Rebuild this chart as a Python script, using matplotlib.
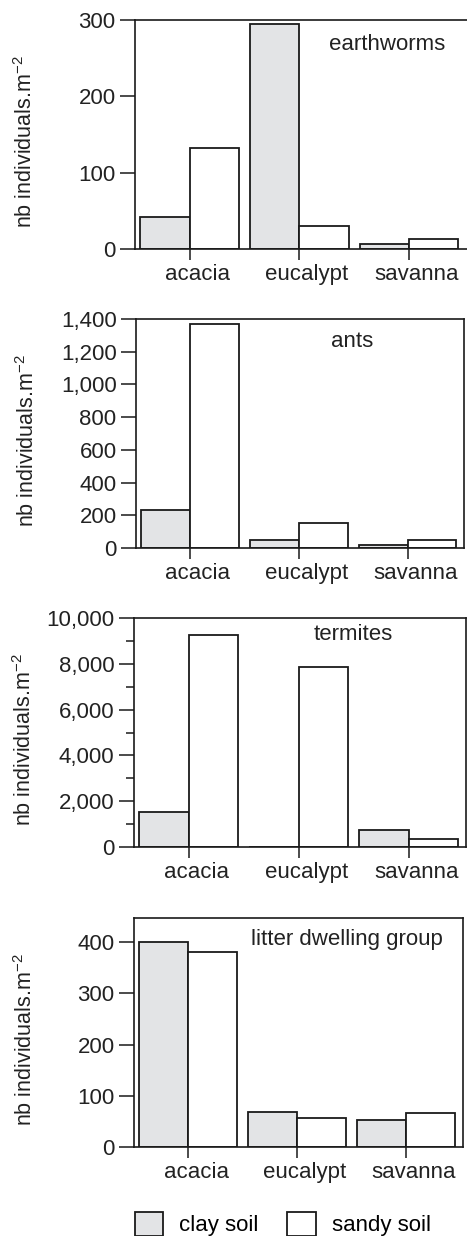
import matplotlib
matplotlib.use("Agg")
import matplotlib.pyplot as plt
from matplotlib.ticker import StrMethodFormatter, MultipleLocator

plt.rcParams['font.family'] = ['Liberation Sans', 'DejaVu Sans']
plt.rcParams['mathtext.default'] = 'regular'

sites = ["acacia", "eucalypt", "savanna"]
soils = ["clay soil", "sandy soil"]

# values (individuals per m2)
earthworms_clay = [42, 295, 7]
earthworms_sandy = [132, 30, 13]
ants_clay = [230, 50, 18]
ants_sandy = [1370, 150, 50]
termites_clay = [1550, 0, 750]
termites_sandy = [9250, 7850, 350]
litter_clay = [400, 68, 53]
litter_sandy = [380, 57, 67]

groups = ["earthworms", "ants", "termites", "litter dwelling group"]
clay = [earthworms_clay, ants_clay, termites_clay, litter_clay]
sandy = [earthworms_sandy, ants_sandy, termites_sandy, litter_sandy]
ymax = [300, 1400, 10000, 447]
ystep = [100, 200, 2000, 100]

clay_color = "#e3e4e6"
edge = "#1a1a1a"
fs = 16

W, H = 467, 1236
fig = plt.figure(figsize=(W / 100, H / 100), dpi=100)

# pixel boxes: left, right, top, bottom
boxes = [(135, 467, 20, 249), (136, 464, 319, 548),
         (134, 466, 618, 847), (134, 463, 918, 1147)]
title_pos = [(0.758, 0.895), (0.66, 0.90), (0.66, 0.926), (0.648, 0.904)]

x = list(range(len(sites)))
w = 0.45
for k in range(4):
    l, r, t, b = boxes[k]
    ax = fig.add_axes([l / W, 1 - b / H, (r - l) / W, (b - t) / H])
    ax.bar([i - w for i in x], clay[k], width=w, align='edge',
           color=clay_color, edgecolor=edge, linewidth=1.3)
    ax.bar(x, sandy[k], width=w, align='edge',
           color='white', edgecolor=edge, linewidth=1.3)
    ax.set_xlim(-0.5, 2.53 if k == 0 else 2.52)
    ax.set_ylim(0, ymax[k])
    ax.yaxis.set_major_locator(MultipleLocator(ystep[k]))
    ax.yaxis.set_major_formatter(StrMethodFormatter('{x:,.0f}'))
    if k == 2:
        ax.yaxis.set_minor_locator(MultipleLocator(1000))
        ax.tick_params(axis='y', which='minor', length=6, width=1.1,
                       color=edge)
    # tick marks at the group centres, labels slightly to the right
    ax.set_xticks(x)
    ax.set_xticklabels([])
    ax.set_xticks([i + 0.07 for i in x], minor=True)
    ax.set_xticklabels(sites, minor=True)
    ax.tick_params(axis='x', which='minor', length=0, labelsize=fs, pad=11,
                   labelcolor='#222')
    ax.tick_params(axis='y', which='major', length=11, width=1.1,
                   labelsize=fs, pad=3, color=edge, labelcolor='#222')
    ax.tick_params(axis='x', which='major', length=8, width=1.1, color=edge)
    for s in ax.spines.values():
        s.set_linewidth(1.2)
        s.set_color(edge)
    if k == 0:
        ax.spines['right'].set_visible(False)
    ax.set_ylabel("nb individuals.m$^{-2}$", fontsize=15.5, color='#222')
    ax.yaxis.set_label_coords(-0.295, 0.47)
    ax.text(title_pos[k][0], title_pos[k][1], groups[k], transform=ax.transAxes,
            ha='center', va='center', fontsize=fs, color='#222')

handles = [plt.Rectangle((0, 0), 1, 1, facecolor=clay_color, edgecolor=edge, linewidth=1.3),
           plt.Rectangle((0, 0), 1, 1, facecolor='white', edgecolor=edge, linewidth=1.3)]
fig.legend(handles, soils, loc='upper left', ncol=2, frameon=False,
           bbox_to_anchor=(119 / W, 1 - 1196 / H), fontsize=fs,
           handlelength=1.3, handleheight=1.3, handletextpad=0.7,
           columnspacing=1.3, borderpad=0.2)

fig.savefig("out.png", dpi=100)
